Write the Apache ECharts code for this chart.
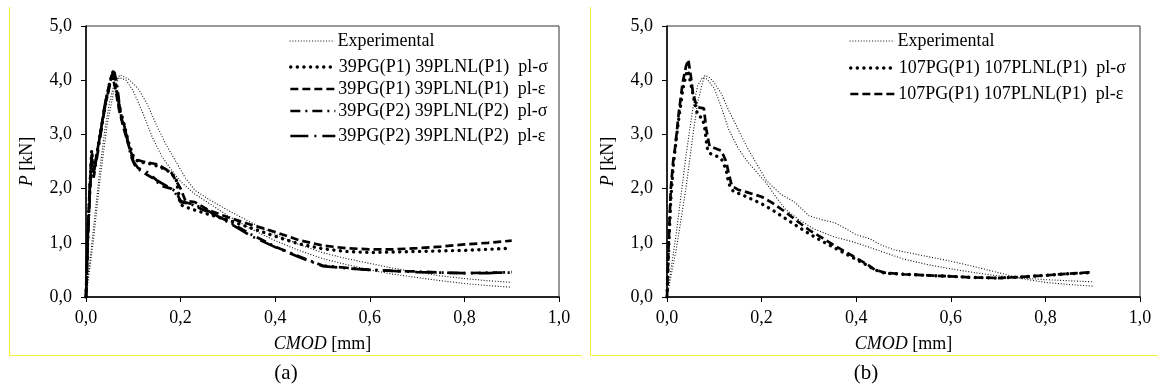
<!DOCTYPE html>
<html>
<head>
<meta charset="utf-8">
<script src="https://cdn.jsdelivr.net/npm/echarts@6/dist/echarts.min.js"></script>
<style>
html,body{margin:0;padding:0;background:#fff;}
#chart{width:1158px;height:387px;}
</style>
</head>
<body>
<div id="chart"></div>
<script>
// ---- tick values ----
const xTicks = [0, 0.2, 0.4, 0.6, 0.8, 1.0];
const yTicks = [0, 1, 2, 3, 4, 5];

// ---- legend names ----
const namesA = ['Experimental', '39PG(P1) 39PLNL(P1)  pl-σ', '39PG(P1) 39PLNL(P1)  pl-ε', '39PG(P2) 39PLNL(P2)  pl-σ', '39PG(P2) 39PLNL(P2)  pl-ε'];
const namesB = ['Experimental', '107PG(P1) 107PLNL(P1)  pl-σ', '107PG(P1) 107PLNL(P1)  pl-ε'];

// ---- panel (a) data [CMOD mm, P kN] ----
const expA1 = [[0,0],[0.01,0.8],[0.02,1.6],[0.03,2.4],[0.04,3.1],[0.05,3.6],[0.06,3.95],[0.072,4.1],[0.09,4.02],[0.11,3.85],[0.13,3.55],[0.15,3.15],[0.17,2.8],[0.19,2.5],[0.21,2.2],[0.23,1.97],[0.26,1.8],[0.3,1.6],[0.35,1.37],[0.4,1.16],[0.45,0.97],[0.5,0.82],[0.55,0.71],[0.6,0.62],[0.65,0.53],[0.7,0.46],[0.75,0.39],[0.8,0.34],[0.85,0.3],[0.9,0.27]];
const expA2 = [[0,0],[0.015,1.0],[0.03,2.2],[0.045,3.2],[0.06,3.85],[0.07,4.05],[0.085,4.0],[0.1,3.8],[0.12,3.4],[0.14,2.95],[0.16,2.6],[0.18,2.35],[0.2,2.13],[0.23,1.9],[0.26,1.73],[0.3,1.5],[0.35,1.25],[0.4,1.04],[0.45,0.86],[0.5,0.71],[0.55,0.6],[0.6,0.5],[0.65,0.42],[0.7,0.36],[0.75,0.3],[0.8,0.25],[0.85,0.21],[0.9,0.18]];
const sigA1 = [[0,0],[0.004,1.2],[0.008,2.0],[0.012,2.7],[0.015,2.3],[0.02,2.5],[0.03,3.0],[0.04,3.5],[0.05,3.95],[0.057,4.15],[0.063,3.9],[0.07,3.5],[0.08,3.2],[0.09,2.85],[0.1,2.6],[0.11,2.5],[0.14,2.45],[0.17,2.35],[0.19,2.2],[0.2,1.7],[0.22,1.63],[0.25,1.55],[0.3,1.42],[0.35,1.27],[0.4,1.12],[0.45,0.98],[0.5,0.89],[0.55,0.84],[0.6,0.82],[0.65,0.83],[0.7,0.84],[0.75,0.85],[0.8,0.86],[0.85,0.88],[0.9,0.9]];
const epsA1 = [[0,0],[0.004,1.2],[0.008,2.0],[0.012,2.6],[0.015,2.3],[0.02,2.5],[0.03,3.0],[0.04,3.55],[0.05,3.95],[0.055,4.1],[0.062,3.85],[0.07,3.45],[0.08,3.1],[0.09,2.8],[0.1,2.55],[0.12,2.5],[0.15,2.45],[0.18,2.3],[0.2,2.0],[0.21,1.78],[0.23,1.75],[0.26,1.6],[0.3,1.47],[0.35,1.33],[0.4,1.2],[0.45,1.05],[0.5,0.95],[0.55,0.9],[0.6,0.88],[0.65,0.88],[0.7,0.9],[0.75,0.93],[0.8,0.97],[0.85,1.0],[0.9,1.04]];
const sigA2 = [[0,0],[0.005,1.3],[0.01,2.2],[0.013,2.55],[0.016,2.2],[0.02,2.4],[0.03,2.95],[0.04,3.5],[0.05,3.9],[0.06,4.15],[0.065,3.95],[0.07,3.6],[0.075,3.3],[0.085,3.0],[0.095,2.6],[0.105,2.4],[0.12,2.3],[0.14,2.2],[0.16,2.05],[0.18,2.0],[0.19,1.9],[0.2,1.75],[0.22,1.72],[0.25,1.6],[0.3,1.4],[0.35,1.15],[0.4,0.93],[0.45,0.75],[0.48,0.65],[0.5,0.58],[0.55,0.54],[0.6,0.5],[0.63,0.49],[0.65,0.48],[0.7,0.47],[0.75,0.45],[0.8,0.44],[0.85,0.45],[0.9,0.45]];
const epsA2 = [[0,0],[0.005,1.4],[0.01,2.4],[0.013,2.65],[0.016,2.3],[0.02,2.45],[0.03,3.0],[0.04,3.55],[0.05,3.95],[0.058,4.17],[0.064,3.9],[0.07,3.55],[0.08,3.2],[0.09,2.8],[0.1,2.5],[0.11,2.38],[0.13,2.3],[0.15,2.15],[0.17,2.05],[0.19,1.95],[0.2,1.77],[0.23,1.7],[0.26,1.58],[0.3,1.38],[0.35,1.12],[0.4,0.92],[0.45,0.74],[0.5,0.57],[0.55,0.53],[0.6,0.5],[0.65,0.48],[0.7,0.46],[0.75,0.45],[0.8,0.44],[0.85,0.44],[0.9,0.46]];

// ---- panel (b) data ----
const expB1 = [[0,0],[0.02,0.9],[0.04,2.0],[0.055,3.0],[0.065,3.6],[0.075,3.95],[0.08,4.09],[0.09,4.05],[0.1,3.95],[0.115,3.75],[0.13,3.45],[0.15,3.1],[0.17,2.75],[0.19,2.45],[0.21,2.15],[0.24,1.9],[0.27,1.75],[0.3,1.5],[0.33,1.42],[0.355,1.37],[0.38,1.25],[0.4,1.15],[0.43,1.07],[0.45,0.97],[0.48,0.87],[0.52,0.8],[0.56,0.73],[0.6,0.66],[0.65,0.56],[0.7,0.45],[0.75,0.34],[0.8,0.27],[0.85,0.23],[0.9,0.2]];
const expB2 = [[0,0],[0.02,1.2],[0.04,2.6],[0.055,3.5],[0.065,3.9],[0.075,4.05],[0.085,4.02],[0.1,3.85],[0.115,3.5],[0.13,3.1],[0.15,2.75],[0.17,2.5],[0.19,2.3],[0.21,2.1],[0.23,1.85],[0.25,1.62],[0.28,1.42],[0.31,1.26],[0.35,1.12],[0.4,1.0],[0.45,0.85],[0.5,0.7],[0.55,0.6],[0.6,0.52],[0.65,0.45],[0.7,0.39],[0.75,0.35],[0.8,0.32],[0.85,0.3],[0.9,0.28]];
const sigB = [[0,0],[0.004,1.0],[0.008,1.8],[0.013,2.4],[0.018,2.8],[0.025,3.3],[0.033,3.8],[0.04,4.1],[0.044,4.18],[0.05,3.95],[0.058,3.6],[0.065,3.35],[0.075,3.3],[0.08,3.1],[0.085,2.75],[0.09,2.65],[0.1,2.62],[0.115,2.55],[0.125,2.35],[0.13,2.1],[0.14,1.95],[0.16,1.88],[0.18,1.8],[0.2,1.72],[0.22,1.62],[0.25,1.45],[0.28,1.28],[0.3,1.17],[0.33,1.02],[0.36,0.88],[0.39,0.74],[0.42,0.6],[0.44,0.5],[0.46,0.44],[0.5,0.42],[0.55,0.4],[0.6,0.38],[0.65,0.36],[0.7,0.35],[0.75,0.37],[0.8,0.4],[0.85,0.43],[0.9,0.45]];
const epsB = [[0,0],[0.004,1.1],[0.008,2.0],[0.013,2.5],[0.017,2.75],[0.025,3.4],[0.033,3.95],[0.04,4.25],[0.045,4.38],[0.05,4.1],[0.055,3.75],[0.06,3.6],[0.066,3.5],[0.078,3.48],[0.083,3.1],[0.09,2.78],[0.1,2.75],[0.115,2.7],[0.125,2.5],[0.13,2.3],[0.137,2.05],[0.15,1.98],[0.17,1.93],[0.2,1.85],[0.22,1.75],[0.25,1.57],[0.28,1.37],[0.3,1.24],[0.33,1.08],[0.36,0.92],[0.39,0.77],[0.42,0.62],[0.44,0.5],[0.46,0.45],[0.5,0.42],[0.55,0.4],[0.6,0.38],[0.65,0.36],[0.7,0.35],[0.75,0.37],[0.8,0.4],[0.85,0.43],[0.9,0.46]];

// ---- styles ----
const FONT = '"Liberation Serif", "Times New Roman", serif';
const INK = '#000';
const styExp = {color:'#111', width:1.1, type:[1,1.8]};
const stySig = {color:INK, width:3.4, type:[0.1,6.5], cap:'round'};
const styEps = {color:INK, width:2.7, type:[8,4]};
const styDD  = {color:INK, width:2.7, type:[10,5,2,5]};
const styLD  = {color:INK, width:2.7, type:[18,6,2,6]};

const fmt = v => v.toFixed(1).replace('.', ',');

function xAx(gi){
  return {gridIndex:gi, type:'value', min:0, max:1, interval:0.2,
    name:'{i|CMOD} [mm]', nameLocation:'middle', nameGap:38,
    nameTextStyle:{fontFamily:FONT, fontSize:18, color:INK, rich:{i:{fontFamily:FONT, fontSize:18, fontStyle:'italic', color:INK}}},
    axisLine:{lineStyle:{color:INK, width:1.5}},
    axisTick:{show:true, inside:false, length:5, lineStyle:{color:INK, width:1}},
    axisLabel:{formatter:fmt, fontFamily:FONT, fontSize:18, color:INK, margin:12},
    splitLine:{show:false}};
}
function yAx(gi){
  return {gridIndex:gi, type:'value', min:0, max:5, interval:1,
    name:'{i|P} [kN]', nameLocation:'middle', nameGap:50, nameRotate:90,
    nameTextStyle:{fontFamily:FONT, fontSize:18, color:INK, rich:{i:{fontFamily:FONT, fontSize:18, fontStyle:'italic', color:INK}}},
    axisLine:{show:true, lineStyle:{color:INK, width:1.5}},
    axisTick:{show:true, inside:false, length:5, lineStyle:{color:INK, width:1}},
    axisLabel:{formatter:fmt, fontFamily:FONT, fontSize:18, color:INK, margin:14},
    splitLine:{show:false}};
}
function ser(name, data, sty, gi){
  return {name, type:'line', xAxisIndex:gi, yAxisIndex:gi, data, symbol:'none', showSymbol:false,
    lineStyle:sty, itemStyle:{color:sty.color}, animation:false, z:3};
}
function leg(name, sty, left, cy){
  const ls = {color:sty.color, width:sty.width, type:sty.type};
  if (sty.cap) ls.cap = sty.cap;
  return {data:[name], left:left, top:cy-10, orient:'horizontal', itemWidth:45, itemHeight:14, itemGap:0,
    lineStyle:ls,
    itemStyle:{color:'rgba(0,0,0,0)', borderColor:'rgba(0,0,0,0)', borderWidth:0, opacity:0},
    textStyle:{fontFamily:FONT, fontSize:18, color:INK, padding:[0,0,0,-2]}, padding:0, selectedMode:false};
}

const yellow = '#f7ef3a';
const option = {
  backgroundColor:'#fff',
  animation:false,
  grid:[
    {left:86, right:1158-559, top:26, bottom:387-297, show:true, borderColor:'#333', borderWidth:1},
    {left:667, right:1158-1140, top:26, bottom:387-297, show:true, borderColor:'#333', borderWidth:1}
  ],
  xAxis:[xAx(0), xAx(1)],
  yAxis:[yAx(0), yAx(1)],
  legend:[
    leg(namesA[0], styExp, 289, 42), leg(namesA[1], stySig, 289, 68), leg(namesA[2], styEps, 289, 90),
    leg(namesA[3], styDD, 289, 112), leg(namesA[4], styLD, 289, 137),
    leg(namesB[0], styExp, 849, 42), leg(namesB[1], stySig, 849, 69), leg(namesB[2], styEps, 849, 95)
  ],
  series:[
    ser(namesA[0], expA1, styExp, 0),
    ser(namesA[0], expA2, styExp, 0),
    ser(namesA[1], sigA1, stySig, 0),
    ser(namesA[2], epsA1, styEps, 0),
    ser(namesA[3], sigA2, styDD, 0),
    ser(namesA[4], epsA2, styLD, 0),
    ser(namesB[0], expB1, styExp, 1),
    ser(namesB[0], expB2, styExp, 1),
    ser(namesB[1], sigB, stySig, 1),
    ser(namesB[2], epsB, styEps, 1)
  ],
  graphic:[
    {type:'line', shape:{x1:9.5, y1:7, x2:9.5, y2:355.5}, style:{stroke:yellow, lineWidth:1}},
    {type:'line', shape:{x1:9.5, y1:355.5, x2:582, y2:355.5}, style:{stroke:yellow, lineWidth:1}},
    {type:'line', shape:{x1:590.5, y1:7, x2:590.5, y2:355.5}, style:{stroke:yellow, lineWidth:1}},
    {type:'line', shape:{x1:590.5, y1:355.5, x2:1158, y2:355.5}, style:{stroke:yellow, lineWidth:1}},
    {type:'text', x:286, y:373, style:{text:'(a)', font:'21px "Liberation Serif", serif', fill:INK, textAlign:'center', textVerticalAlign:'middle'}},
    {type:'text', x:866, y:373, style:{text:'(b)', font:'21px "Liberation Serif", serif', fill:INK, textAlign:'center', textVerticalAlign:'middle'}}
  ]
};
const chart = echarts.init(document.getElementById('chart'), null, {renderer:'canvas'});
chart.setOption(option);
</script>
</body>
</html>
